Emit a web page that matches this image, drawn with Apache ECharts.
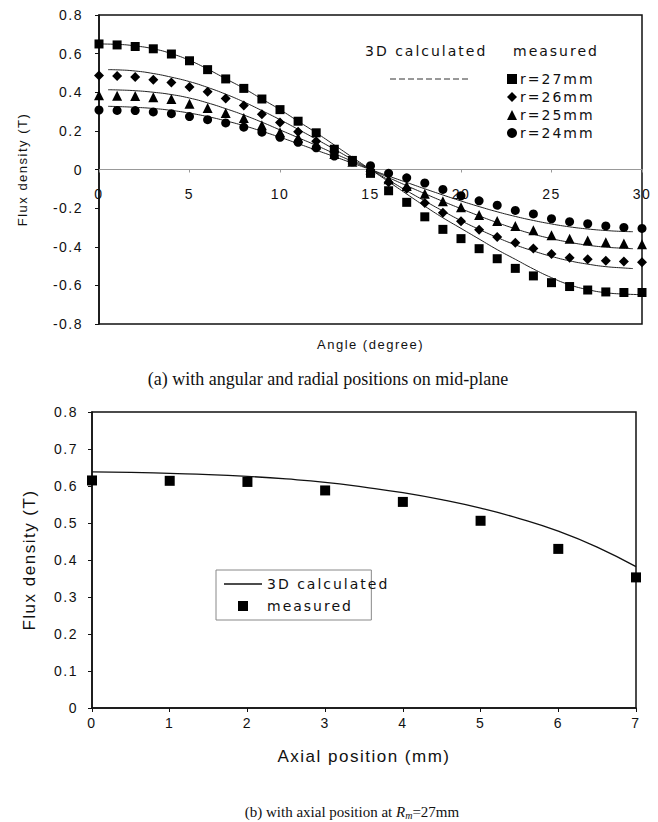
<!DOCTYPE html>
<html><head><meta charset="utf-8">
<script src="https://cdn.jsdelivr.net/npm/echarts@6/dist/echarts.min.js"></script>
<style>
html,body{margin:0;padding:0;background:#fff}
#c{width:658px;height:822px;letter-spacing:1.5px}
#c text[style*="Serif"]{letter-spacing:0}
#c text[style*="DejaVu"]{letter-spacing:2px}
</style></head><body><div id="c"></div>
<script>
// ---- (a) angular / radial ----
const angles = [0,1,2,3,4,5,6,7,8,9,10,11,12,13,14,15,16,17,18,19,20,21,22,23,24,25,26,27,28,29,30];
const meas27 = [0.65,0.645,0.637,0.625,0.598,0.563,0.517,0.469,0.42,0.365,0.31,0.25,0.19,0.105,0.047,-0.02,-0.11,-0.17,-0.245,-0.31,-0.358,-0.41,-0.462,-0.512,-0.551,-0.586,-0.606,-0.624,-0.634,-0.637,-0.637];
const meas26 = [0.487,0.484,0.479,0.465,0.451,0.427,0.403,0.367,0.331,0.286,0.243,0.195,0.146,0.09,0.045,-0.01,-0.066,-0.1,-0.174,-0.224,-0.268,-0.312,-0.349,-0.379,-0.409,-0.437,-0.457,-0.465,-0.472,-0.476,-0.48];
const meas25 = [0.384,0.382,0.381,0.374,0.365,0.34,0.319,0.293,0.267,0.229,0.193,0.164,0.129,0.08,0.04,0.0,-0.05,-0.085,-0.126,-0.164,-0.196,-0.236,-0.267,-0.293,-0.315,-0.34,-0.358,-0.367,-0.377,-0.383,-0.387];
const meas24 = [0.308,0.306,0.305,0.298,0.289,0.274,0.258,0.241,0.219,0.193,0.167,0.141,0.112,0.07,0.04,0.02,-0.02,-0.043,-0.07,-0.103,-0.136,-0.162,-0.185,-0.212,-0.23,-0.255,-0.27,-0.281,-0.292,-0.3,-0.305];

const calc27 = [0.65,0.648,0.64,0.625,0.6,0.565,0.52,0.47,0.42,0.365,0.31,0.25,0.19,0.127,0.063,0,-0.063,-0.127,-0.19,-0.25,-0.305,-0.36,-0.415,-0.465,-0.515,-0.56,-0.597,-0.622,-0.638,-0.645,-0.648];
const calcAngles = [0.5,1,2,3,4,5,6,7,8,9,10,11,12,13,14,15,16,17,18,19,20,21,22,23,24,25,26,27,28,29,29.5];
const calc26 = [0.517,0.516,0.51,0.497,0.478,0.455,0.425,0.39,0.35,0.305,0.258,0.208,0.157,0.105,0.052,0,-0.055,-0.11,-0.163,-0.215,-0.265,-0.31,-0.352,-0.39,-0.422,-0.45,-0.473,-0.49,-0.503,-0.51,-0.513];
const calc25 = [0.413,0.412,0.408,0.4,0.388,0.37,0.345,0.315,0.282,0.245,0.205,0.165,0.125,0.083,0.042,0,-0.042,-0.084,-0.125,-0.165,-0.203,-0.24,-0.275,-0.307,-0.335,-0.358,-0.377,-0.392,-0.402,-0.408,-0.41];
const calc24 = [0.327,0.326,0.322,0.316,0.306,0.292,0.274,0.252,0.227,0.198,0.167,0.134,0.1,0.067,0.033,0,-0.034,-0.067,-0.1,-0.132,-0.163,-0.192,-0.219,-0.243,-0.264,-0.282,-0.297,-0.308,-0.316,-0.321,-0.322];

// ---- (b) axial ----
const axial = [0,1,2,3,4,5,6,7];
const measAxial = [0.615,0.614,0.611,0.588,0.557,0.506,0.43,0.353];
const calcAxialPos = [0,0.5,1,1.5,2,2.5,3,3.5,4,4.5,5,5.5,6,6.5,7];
const calcAxial = [0.638,0.637,0.634,0.631,0.626,0.619,0.61,0.597,0.582,0.563,0.54,0.512,0.478,0.435,0.382];

const radiusNames = ['r=27mm','r=26mm','r=25mm','r=24mm'];
const symbols = ['rect','diamond','triangle','circle'];
const symbolSizes = [9,10,10,9];
const measA = [meas27,meas26,meas25,meas24];
const calcA = [calc26,calc25,calc24];

const zip = (xs, ys) => xs.map((x,i)=>[x, ys[i]]);
const F = 'Liberation Sans';
const FL = 'DejaVu Sans';
const lineStyleCalc = {color:'#222', width:1};

const series = [];
series.push({type:'line', name:'calc27', xAxisIndex:0, yAxisIndex:0, data: zip(angles, calc27), smooth:true, symbol:'none', lineStyle:lineStyleCalc, silent:true, z:2});
calcA.forEach((arr,i)=>series.push({type:'line', name:'calc'+(26-i), xAxisIndex:0, yAxisIndex:0, data: zip(calcAngles, arr), smooth:true, symbol:'none', lineStyle:lineStyleCalc, silent:true, z:2}));
measA.forEach((arr,i)=>series.push({type:'scatter', name: radiusNames[i], xAxisIndex:0, yAxisIndex:0, data: zip(angles, arr), symbol: symbols[i], symbolSize: symbolSizes[i], itemStyle:{color:'#000', opacity:1}, z:3}));
series.push({type:'line', name:'3D calculated', xAxisIndex:1, yAxisIndex:1, data: zip(calcAxialPos, calcAxial), smooth:true, symbol:'none', itemStyle:{color:'#111'}, lineStyle:{color:'#111', width:1.3}, z:2});
series.push({type:'scatter', name:'measured', xAxisIndex:1, yAxisIndex:1, data: zip(axial, measAxial), symbol:'rect', symbolSize:10, itemStyle:{color:'#000', opacity:1}, z:3});

const chart = echarts.init(document.getElementById('c'), null, {renderer:'svg'});
chart.setOption({
  animation:false,
  backgroundColor:'#fff',
  grid:[
    {left:99, top:15, width:543, height:309, show:true, borderColor:'#111', borderWidth:1.5, containLabel:false},
    {left:92, top:412, width:544, height:296, show:true, borderColor:'#111', borderWidth:1.5, containLabel:false}
  ],
  xAxis:[
    {gridIndex:0, type:'value', min:0, max:30, interval:5, position:'bottom', offset:-154.5,
     axisLine:{onZero:false, lineStyle:{color:'#999', width:1}},
     axisTick:{show:true, length:3, lineStyle:{color:'#999'}},
     axisLabel:{margin:17, fontSize:14, fontFamily:F, color:'#111'},
     splitLine:{show:false},
     name:'Angle (degree)', nameLocation:'middle', nameGap:168, nameTextStyle:{fontSize:13, fontFamily:F, color:'#111'}},
    {gridIndex:1, type:'value', min:0, max:7, interval:1,
     axisLine:{lineStyle:{color:'#111', width:1.5}},
     axisTick:{show:true, length:4, lineStyle:{color:'#111'}},
     axisLabel:{margin:8, fontSize:14, fontFamily:F, color:'#111'},
     splitLine:{show:false},
     name:'Axial position (mm)', nameLocation:'middle', nameGap:40, nameTextStyle:{fontSize:17, fontFamily:F, color:'#111'}}
  ],
  yAxis:[
    {gridIndex:0, type:'value', min:-0.8, max:0.8, interval:0.2,
     axisLine:{onZero:false, lineStyle:{color:'#111', width:1.5}},
     axisTick:{show:true, length:4, lineStyle:{color:'#111'}},
     axisLabel:{margin:16, fontSize:14, fontFamily:F, color:'#111', formatter:v=>(+v.toFixed(1)).toString()},
     splitLine:{show:false},
     name:'Flux density (T)', nameLocation:'middle', nameGap:70, nameTextStyle:{fontSize:13, fontFamily:F, color:'#111'}},
    {gridIndex:1, type:'value', min:0, max:0.8, interval:0.1,
     axisLine:{onZero:false, lineStyle:{color:'#111', width:1.5}},
     axisTick:{show:true, length:4, lineStyle:{color:'#111'}},
     axisLabel:{margin:14, fontSize:14, fontFamily:F, color:'#111', formatter:v=>(+v.toFixed(1)).toString()},
     splitLine:{show:false},
     name:'Flux density (T)', nameLocation:'middle', nameGap:54, nameTextStyle:{fontSize:17, fontFamily:F, color:'#111'}}
  ],
  legend:[
    {data: radiusNames, orient:'vertical', left:507, top:72, itemWidth:10, itemHeight:10, itemGap:4, padding:0,
     itemStyle:{opacity:1},
     textStyle:{fontSize:14, fontFamily:FL, color:'#111', padding:[0,0,0,-2]}},
    {data:[{name:'3D calculated', icon:'path://M0,0H40V1.4H0Z', itemStyle:{color:'#111'}},
           {name:'measured', icon:'path://M0,0H10V10H0Z', itemStyle:{color:'#000', opacity:1}}],
     orient:'vertical', left:216, top:570, itemWidth:38, itemHeight:10, itemGap:8,
     padding:[7,8,7,8], borderColor:'#888', borderWidth:1, backgroundColor:'#fff',
     textStyle:{fontSize:14, fontFamily:FL, color:'#111'}}
  ],
  graphic:[
    {type:'text', left:365, top:44, style:{text:'3D calculated', font:'14px "DejaVu Sans"', fill:'#111'}},
    {type:'text', left:513, top:44, style:{text:'measured', font:'14px "DejaVu Sans"', fill:'#111'}},
    {type:'line', shape:{x1:390, y1:79, x2:468, y2:79}, style:{stroke:'#333', lineWidth:1, lineDash:[6,3]}},
    {type:'text', x:328, y:379, style:{text:'(a) with angular and radial positions on mid-plane', font:'18px "Liberation Serif"', fill:'#111', align:'center', verticalAlign:'middle'}},
    {type:'text', x:352, y:812, style:{text:'(b) with axial position at {i|R}{s|m}=27mm', font:'15px "Liberation Serif"', fill:'#111', align:'center', verticalAlign:'middle',
      rich:{i:{font:'italic 15px "Liberation Serif"', fill:'#111'}, s:{font:'italic 10px "Liberation Serif"', fill:'#111', verticalAlign:'bottom', padding:[6,0,0,0]}}}}
  ],
  series: series
});
</script></body></html>
